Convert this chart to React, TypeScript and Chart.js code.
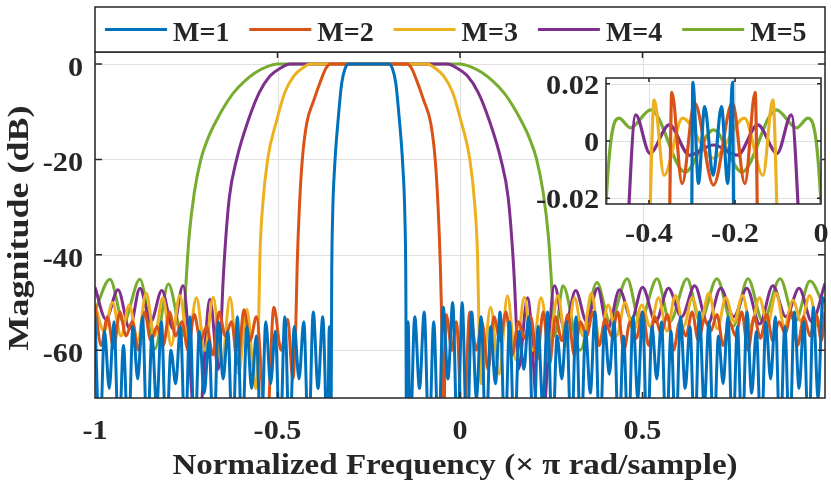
import React, { useEffect, useRef } from 'react';
import { Chart, registerables } from 'chart.js';

Chart.register(...registerables);

// ---------- labels, ticks, colours ----------
const seriesNames = ['M=1', 'M=2', 'M=3', 'M=4', 'M=5'];
const seriesColors = ['#0072BD', '#D95319', '#EDB120', '#7E2F8E', '#77AC30'];

const xTickValues = [-1, -0.5, 0, 0.5];
const xTickLabels = ['-1', '-0.5', '0', '0.5'];
const yTickValues = [0, -20, -40, -60];
const yTickLabels = ['0', '-20', '-40', '-60'];

const insetXTickValues = [-0.4, -0.2, 0];
const insetXTickLabels = ['-0.4', '-0.2', '0'];
const insetYTickValues = [0.02, 0, -0.02];
const insetYTickLabels = ['0.02', '0', '-0.02'];

const xTitle = 'Normalized Frequency (\u00D7 \u03C0 rad/sample)';
const yTitle = 'Magnitude (dB)';

// ---------- main plot: magnitude (dB) vs normalized frequency ----------
const m1Freq = [
  -1.000, -0.987, -0.974, -0.961, -0.948, -0.935, -0.922, -0.909, -0.896, -0.883,
  -0.870, -0.857, -0.844, -0.831, -0.818, -0.805, -0.792, -0.779, -0.766, -0.753,
  -0.740, -0.727, -0.714, -0.701, -0.688, -0.675, -0.662, -0.649, -0.636, -0.623,
  -0.610, -0.597, -0.584, -0.571, -0.558, -0.545, -0.532, -0.519, -0.506, -0.493,
  -0.480, -0.467, -0.454, -0.441, -0.428, -0.415, -0.402, -0.389, -0.376, -0.363,
  -0.358, -0.3535, -0.3515, -0.349, -0.343, -0.334, -0.324, -0.315, -0.305, -0.25,
  -0.195, -0.185, -0.176, -0.166, -0.157, -0.151, -0.1485, -0.1465, -0.142,
  -0.137, -0.124, -0.111, -0.098, -0.085, -0.072, -0.059, -0.046, -0.033, -0.020,
  -0.007, 0.006, 0.019, 0.032, 0.045, 0.058, 0.071, 0.084, 0.097, 0.110,
  0.123, 0.136, 0.149, 0.162, 0.175, 0.188, 0.201, 0.214, 0.227, 0.240,
  0.253, 0.266, 0.279, 0.292, 0.305, 0.318, 0.331, 0.344, 0.357, 0.370,
  0.383, 0.396, 0.409, 0.422, 0.435, 0.448, 0.461, 0.474, 0.487, 0.500,
  0.513, 0.526, 0.539, 0.552, 0.565, 0.578, 0.591, 0.604, 0.617, 0.630,
  0.643, 0.656, 0.669, 0.682, 0.695, 0.708, 0.721, 0.734, 0.747, 0.760,
  0.773, 0.786, 0.799, 0.812, 0.825, 0.838, 0.851, 0.864, 0.877, 0.890,
  0.903, 0.916, 0.929, 0.942, 0.955, 0.968, 0.981, 0.994, 1.000,
];
const m1Mag = [
  -53, -80, -56, -68, -54, -80, -59, -80, -55, -66,
  -53, -80, -57, -72, -54, -80, -60, -67, -55, -80,
  -53, -80, -56, -69, -58, -80, -54, -66, -56, -80,
  -53, -80, -55, -68, -57, -80, -54, -67, -56, -80,
  -53, -80, -55, -66, -54, -80, -52, -68, -53, -80,
  -55, -80, -45, -32, -21, -11.8, -4, -1, 0, 0,
  0, -1, -4, -11.8, -21, -32, -45, -80, -54,
  -80, -53, -68, -52, -80, -54, -80, -51, -66, -50,
  -80, -50, -80, -52, -70, -53, -80, -55, -67, -52,
  -80, -54, -80, -56, -64, -53, -80, -55, -72, -52,
  -80, -57, -66, -54, -80, -53, -80, -56, -69, -52,
  -80, -55, -65, -54, -80, -57, -80, -53, -70, -52,
  -80, -55, -66, -54, -80, -56, -80, -53, -68, -55,
  -80, -52, -72, -54, -80, -57, -67, -53, -80, -55,
  -80, -52, -69, -56, -80, -54, -66, -53, -80, -55,
  -80, -52, -68, -54, -80, -51, -70, -49, -50,
];

const m2Freq = [
  -1.000, -0.983, -0.966, -0.949, -0.932, -0.915, -0.898, -0.881, -0.864, -0.847,
  -0.830, -0.813, -0.796, -0.779, -0.762, -0.745, -0.728, -0.711, -0.694, -0.677,
  -0.660, -0.643, -0.626, -0.609, -0.592, -0.575, -0.558, -0.530, -0.510, -0.490,
  -0.472, -0.458, -0.450, -0.446, -0.440, -0.432, -0.420, -0.400, -0.381, -0.368,
  -0.355, -0.25, -0.145, -0.132, -0.119, -0.100, -0.080, -0.068, -0.060, -0.054,
  -0.050, -0.046, -0.038, -0.022, -0.010, 0.008, 0.027, 0.045, 0.060, 0.077,
  0.093, 0.110, 0.126, 0.143, 0.160, 0.177, 0.194, 0.211, 0.228, 0.245,
  0.262, 0.279, 0.296, 0.313, 0.330, 0.347, 0.364, 0.381, 0.398, 0.415,
  0.432, 0.449, 0.466, 0.483, 0.500, 0.517, 0.534, 0.551, 0.568, 0.585,
  0.602, 0.619, 0.636, 0.653, 0.670, 0.687, 0.704, 0.721, 0.738, 0.755,
  0.772, 0.789, 0.806, 0.823, 0.840, 0.857, 0.874, 0.891, 0.908, 0.925,
  0.942, 0.959, 0.976, 0.990, 1.000,
];
const m2Mag = [
  -50.5, -59, -53, -59.5, -52, -57, -54, -60, -52, -58,
  -55, -59, -52, -57, -54, -60, -52.5, -58, -55, -61,
  -52, -57, -54, -63, -51.5, -58, -53, -78, -51, -60,
  -53.5, -66, -55, -42, -30, -20, -12.5, -7.5, -3.4, -1,
  0, 0, 0, -1, -3.4, -7.5, -12.5, -20, -30, -42,
  -55, -80, -52.5, -60, -54, -80, -52, -60, -54, -64,
  -53, -58, -52, -61, -54, -57.5, -53, -62, -52, -63,
  -53, -58, -52.5, -61, -54, -57, -52, -59, -53.5, -57,
  -52, -60, -54, -57.5, -52, -59, -53, -56.5, -52.5, -60,
  -54, -57, -52, -58, -53.5, -56, -52.5, -59, -54, -57,
  -52, -60, -53, -57.5, -52.5, -58, -54, -56.5, -52, -59,
  -53, -57, -52.5, -58, -52,
];

const m3Freq = [
  -1.000, -0.975, -0.952, -0.929, -0.906, -0.883, -0.860, -0.837, -0.814, -0.791,
  -0.768, -0.745, -0.722, -0.699, -0.676, -0.653, -0.630, -0.607, -0.584, -0.560,
  -0.552, -0.548, -0.541, -0.527, -0.502, -0.480, -0.455, -0.430, -0.410, -0.25,
  -0.090, -0.070, -0.045, -0.020, 0.002, 0.027, 0.041, 0.048, 0.052, 0.058,
  0.084, 0.107, 0.130, 0.153, 0.176, 0.199, 0.222, 0.245, 0.268, 0.291,
  0.314, 0.337, 0.360, 0.383, 0.406, 0.429, 0.452, 0.475, 0.498, 0.521,
  0.544, 0.567, 0.590, 0.613, 0.636, 0.659, 0.682, 0.705, 0.728, 0.751,
  0.774, 0.797, 0.820, 0.843, 0.866, 0.889, 0.912, 0.935, 0.958, 0.981,
  1.000,
];
const m3Mag = [
  -50.5, -56, -50, -57, -50.5, -58, -48, -57, -49, -59,
  -48.5, -58, -49, -60, -48.9, -63, -48.9, -65, -51.4, -68,
  -55, -40, -30, -20, -11.8, -6, -2.5, -0.8, 0, 0,
  0, -0.8, -2.5, -6, -11.8, -20, -30, -40, -55, -67,
  -51, -65, -48.6, -62, -48.9, -60, -49, -58, -48.5, -59,
  -49, -57, -48, -58, -50.5, -57, -50, -56, -50.5, -55,
  -49, -56, -48.5, -55, -49, -54, -48, -55.5, -49, -54,
  -48.5, -55, -49, -54.5, -48, -55, -49.5, -54, -48.5, -55,
  -50,
];

const m4Freq = [
  -1.000, -0.970, -0.937, -0.905, -0.877, -0.847, -0.817, -0.786, -0.759, -0.720,
  -0.685, -0.662, -0.655, -0.650, -0.644, -0.632, -0.612, -0.580, -0.550, -0.520,
  -0.490, -0.466, -0.25, -0.034, -0.010, 0.020, 0.050, 0.080, 0.112, 0.132,
  0.144, 0.150, 0.155, 0.160, 0.185, 0.220, 0.259, 0.286, 0.317, 0.347,
  0.377, 0.405, 0.437, 0.470, 0.500, 0.536, 0.571, 0.607, 0.643, 0.679,
  0.714, 0.750, 0.786, 0.821, 0.857, 0.893, 0.929, 0.964, 1.000,
];
const m4Mag = [
  -46.8, -53.5, -47.3, -55.5, -47, -54, -47.5, -55.5, -46.5, -80,
  -49.3, -64, -56, -47, -39, -28, -20, -11.8, -6, -2.5,
  -0.8, 0, 0, 0, -0.8, -2.5, -6, -11.8, -20, -28,
  -39, -47, -56, -64, -49, -80, -46.5, -55.5, -47.5, -54,
  -47, -55.5, -47.3, -53.5, -46.8, -54, -47, -53, -46.5, -54.5,
  -47, -53, -47, -54.5, -46.5, -53, -47, -54, -46,
];

const m5Freq = [
  -1.000, -0.959, -0.922, -0.877, -0.836, -0.799, -0.760, -0.755, -0.750, -0.742,
  -0.728, -0.710, -0.690, -0.667, -0.645, -0.620, -0.590, -0.560, -0.530, -0.500,
  -0.25, 0.000, 0.030, 0.060, 0.090, 0.120, 0.145, 0.167, 0.190, 0.210,
  0.228, 0.242, 0.250, 0.255, 0.260, 0.282, 0.329, 0.375, 0.411, 0.458,
  0.493, 0.540, 0.575, 0.622, 0.658, 0.704, 0.748, 0.789, 0.830, 0.877,
  0.918, 0.959, 1.000,
];
const m5Mag = [
  -51.8, -45.1, -54.1, -45.1, -59.7, -46.1, -57, -52, -45, -36,
  -27, -20, -15.5, -11.8, -8.8, -6, -3.6, -1.8, -0.6, 0,
  0, 0, -0.6, -1.8, -3.6, -6, -8.8, -11.8, -15.5, -20,
  -27, -36, -45, -52, -57, -46.5, -60, -45.8, -54, -45,
  -54, -45, -54, -45, -54, -45, -55, -45, -54, -45,
  -54, -45.5, -51.5,
];

// ---------- inset: passband ripple (dB) ----------
const m1InsetFreq = [-0.3015, -0.298, -0.285, -0.2706, -0.251, -0.2315, -0.217, -0.2055, -0.2025];
const m1InsetMag = [-0.05, 0.0205, -0.0148, 0.012, -0.012, 0.012, -0.0148, 0.0205, -0.05];
const m2InsetFreq = [-0.354, -0.347, -0.323, -0.294, -0.25, -0.206, -0.177, -0.153, -0.146];
const m2InsetMag = [-0.05, 0.017, -0.0149, 0.0133, -0.0154, 0.0133, -0.0149, 0.017, -0.05];
const m3InsetFreq = [-0.402, -0.388, -0.365, -0.322, -0.25, -0.178, -0.135, -0.112, -0.098];
const m3InsetMag = [-0.05, 0.0144, -0.012, 0.008, -0.006, 0.008, -0.012, 0.0144, -0.05];
const m4InsetFreq = [-0.456, -0.431, -0.398, -0.353, -0.306, -0.25, -0.194, -0.147, -0.102, -0.069, -0.044];
const m4InsetMag = [-0.05, 0.0091, -0.0043, 0.0056, -0.0049, -0.0014, -0.0049, 0.0056, -0.0043, 0.0091, -0.05];
const m5InsetFreq = [-0.506, -0.5, -0.47, -0.443, -0.396, -0.316, -0.25, -0.184, -0.104, -0.057, -0.03, 0.0, 0.006];
const m5InsetMag = [-0.05, -0.022, 0.008, 0.0046, 0.0109, -0.0108, 0.0039, -0.0108, 0.0109, 0.0046, 0.008, -0.022, -0.05];

// ---------- helpers ----------
const FONT = '"Liberation Serif", "Times New Roman", Times, serif';
const INK = '#262626';
const GRID = '#e0e0e0';

function drawText(
  ctx: CanvasRenderingContext2D,
  text: string,
  x: number,
  y: number,
  size: number,
  sx: number,
  align: 'left' | 'center' | 'right',
  rotate = false,
) {
  ctx.save();
  ctx.font = `bold ${size}px ${FONT}`;
  ctx.fillStyle = INK;
  ctx.textBaseline = 'alphabetic';
  ctx.textAlign = 'left';
  ctx.translate(x, y);
  if (rotate) ctx.rotate(-Math.PI / 2);
  ctx.scale(sx, 1);
  const w = ctx.measureText(text).width;
  const dx = align === 'center' ? -w / 2 : align === 'right' ? -w : 0;
  ctx.fillText(text, dx, 0);
  ctx.restore();
}

function makeDatasets(freqs: number[][], mags: number[][], width: number) {
  return freqs.map((fr, i) => {
    const mg = mags[i];
    const n = Math.min(fr.length, mg.length);
    const pts = [] as { x: number; y: number }[];
    for (let j = 0; j < n; j++) pts.push({ x: fr[j], y: mg[j] });
    return {
      label: seriesNames[i],
      data: pts,
      borderColor: seriesColors[i],
      backgroundColor: seriesColors[i],
      borderWidth: width,
      pointRadius: 0,
      fill: false,
      cubicInterpolationMode: 'monotone',
      clip: 0,
    };
  });
}

const mainDecor = {
  id: 'mainDecor',
  beforeDraw(chart: any) {
    const ctx = chart.ctx as CanvasRenderingContext2D;
    ctx.save();
    ctx.fillStyle = '#ffffff';
    ctx.fillRect(0, 0, chart.width, chart.height);
    ctx.restore();
  },
  beforeDatasetsDraw(chart: any) {
    const ctx = chart.ctx as CanvasRenderingContext2D;
    const a = chart.chartArea;
    const xs = chart.scales.x;
    const ys = chart.scales.y;
    ctx.save();
    ctx.strokeStyle = GRID;
    ctx.lineWidth = 1;
    ctx.beginPath();
    xTickValues.forEach((v) => {
      const px = Math.round(xs.getPixelForValue(v)) + 0.5;
      ctx.moveTo(px, a.top);
      ctx.lineTo(px, a.bottom);
    });
    yTickValues.forEach((v) => {
      const py = Math.round(ys.getPixelForValue(v)) + 0.5;
      ctx.moveTo(a.left, py);
      ctx.lineTo(a.right, py);
    });
    ctx.stroke();
    ctx.restore();
  },
  afterDatasetsDraw(chart: any) {
    const ctx = chart.ctx as CanvasRenderingContext2D;
    const a = chart.chartArea;
    const xs = chart.scales.x;
    const ys = chart.scales.y;
    ctx.save();
    // axes box + ticks
    ctx.strokeStyle = INK;
    ctx.lineWidth = 1.5;
    ctx.strokeRect(a.left, a.top, a.right - a.left, a.bottom - a.top);
    ctx.beginPath();
    xTickValues.forEach((v) => {
      const px = xs.getPixelForValue(v);
      if (px > a.left + 1 && px < a.right - 1) {
        ctx.moveTo(px, a.bottom);
        ctx.lineTo(px, a.bottom - 6);
        ctx.moveTo(px, a.top);
        ctx.lineTo(px, a.top + 6);
      }
    });
    yTickValues.forEach((v) => {
      const py = ys.getPixelForValue(v);
      ctx.moveTo(a.left, py);
      ctx.lineTo(a.left + 7, py);
      ctx.moveTo(a.right, py);
      ctx.lineTo(a.right - 7, py);
    });
    ctx.stroke();
    // tick labels
    xTickValues.forEach((v, i) => {
      drawText(ctx, xTickLabels[i], xs.getPixelForValue(v), a.bottom + 41, 27, 1.12, 'center');
    });
    yTickValues.forEach((v, i) => {
      drawText(ctx, yTickLabels[i], a.left - 12, ys.getPixelForValue(v) + 12, 27, 1.12, 'right');
    });
    // axis titles
    drawText(ctx, xTitle, (a.left + a.right) / 2 - 5, 474, 29, 1.14, 'center');
    drawText(ctx, yTitle, 28, (a.top + a.bottom) / 2 + 3, 30, 1.2, 'center', true);
    // legend box
    const lt = 7;
    const lb = a.top;
    ctx.fillStyle = '#ffffff';
    ctx.fillRect(a.left, lt, a.right - a.left, lb - lt);
    ctx.strokeStyle = INK;
    ctx.lineWidth = 1.5;
    ctx.strokeRect(a.left, lt, a.right - a.left, lb - lt);
    seriesNames.forEach((name, i) => {
      const x0 = a.left + 10 + 144.3 * i;
      ctx.strokeStyle = seriesColors[i];
      ctx.lineWidth = 3.2;
      ctx.beginPath();
      ctx.moveTo(x0, 29.5);
      ctx.lineTo(x0 + 62, 29.5);
      ctx.stroke();
      drawText(ctx, name, x0 + 68, 40.5, 28, 1.0, 'left');
    });
    ctx.restore();
  },
};

const insetDecor = {
  id: 'insetDecor',
  beforeDatasetsDraw(chart: any) {
    const ctx = chart.ctx as CanvasRenderingContext2D;
    const a = chart.chartArea;
    const xs = chart.scales.x;
    const ys = chart.scales.y;
    ctx.save();
    ctx.fillStyle = '#ffffff';
    ctx.fillRect(a.left, a.top, a.right - a.left, a.bottom - a.top);
    ctx.strokeStyle = GRID;
    ctx.lineWidth = 1;
    ctx.beginPath();
    insetXTickValues.forEach((v) => {
      const px = Math.round(xs.getPixelForValue(v)) + 0.5;
      ctx.moveTo(px, a.top);
      ctx.lineTo(px, a.bottom);
    });
    insetYTickValues.forEach((v) => {
      const py = Math.round(ys.getPixelForValue(v)) + 0.5;
      ctx.moveTo(a.left, py);
      ctx.lineTo(a.right, py);
    });
    ctx.stroke();
    ctx.restore();
  },
  afterDatasetsDraw(chart: any) {
    const ctx = chart.ctx as CanvasRenderingContext2D;
    const a = chart.chartArea;
    const xs = chart.scales.x;
    const ys = chart.scales.y;
    ctx.save();
    ctx.strokeStyle = INK;
    ctx.lineWidth = 1.5;
    ctx.strokeRect(a.left, a.top, a.right - a.left, a.bottom - a.top);
    ctx.beginPath();
    insetXTickValues.forEach((v) => {
      const px = xs.getPixelForValue(v);
      if (px < a.right - 1) {
        ctx.moveTo(px, a.bottom);
        ctx.lineTo(px, a.bottom - 4);
        ctx.moveTo(px, a.top);
        ctx.lineTo(px, a.top + 4);
      }
    });
    insetYTickValues.forEach((v) => {
      const py = ys.getPixelForValue(v);
      ctx.moveTo(a.left, py);
      ctx.lineTo(a.left + 4, py);
      ctx.moveTo(a.right, py);
      ctx.lineTo(a.right - 4, py);
    });
    ctx.stroke();
    insetXTickValues.forEach((v, i) => {
      drawText(ctx, insetXTickLabels[i], xs.getPixelForValue(v), a.bottom + 38, 27, 1.12, 'center');
    });
    insetYTickValues.forEach((v, i) => {
      drawText(ctx, insetYTickLabels[i], a.left - 7, ys.getPixelForValue(v) + 10, 27, 1.12, 'right');
    });
    ctx.restore();
  },
};

export default function App() {
  const mainRef = useRef<HTMLCanvasElement>(null);
  const insetRef = useRef<HTMLCanvasElement>(null);

  useEffect(() => {
    document.body.style.margin = '0';
    const mainChart = new Chart(mainRef.current as HTMLCanvasElement, {
      type: 'line',
      data: {
        datasets: makeDatasets(
          [m1Freq, m2Freq, m3Freq, m4Freq, m5Freq],
          [m1Mag, m2Mag, m3Mag, m4Mag, m5Mag],
          3,
        ) as any,
      },
      options: {
        responsive: false,
        animation: false,
        events: [],
        layout: { padding: { left: 95, right: 6, top: 52, bottom: 91 } },
        scales: {
          x: { type: 'linear', min: -1, max: 1, display: false },
          y: { type: 'linear', min: -70, max: 2.5, display: false },
        },
        plugins: { legend: { display: false }, tooltip: { enabled: false } },
      } as any,
      plugins: [mainDecor],
    });

    const insetChart = new Chart(insetRef.current as HTMLCanvasElement, {
      type: 'line',
      data: {
        datasets: makeDatasets(
          [m1InsetFreq, m2InsetFreq, m3InsetFreq, m4InsetFreq, m5InsetFreq],
          [m1InsetMag, m2InsetMag, m3InsetMag, m4InsetMag, m5InsetMag],
          3.2,
        ) as any,
      },
      options: {
        responsive: false,
        animation: false,
        events: [],
        layout: { padding: { left: 96, right: 10, top: 10, bottom: 44 } },
        scales: {
          x: { type: 'linear', min: -0.5, max: 0, display: false },
          y: { type: 'linear', min: -0.022, max: 0.022, display: false },
        },
        plugins: { legend: { display: false }, tooltip: { enabled: false } },
      } as any,
      plugins: [insetDecor],
    });

    return () => {
      mainChart.destroy();
      insetChart.destroy();
    };
  }, []);

  return (
    <div style={{ position: 'relative', width: 831, height: 489, background: '#ffffff' }}>
      <canvas
        ref={mainRef}
        width={831}
        height={489}
        style={{ position: 'absolute', left: 0, top: 0, width: 831, height: 489 }}
      />
      <canvas
        ref={insetRef}
        width={321}
        height={180}
        style={{ position: 'absolute', left: 510, top: 68, width: 321, height: 180 }}
      />
    </div>
  );
}
